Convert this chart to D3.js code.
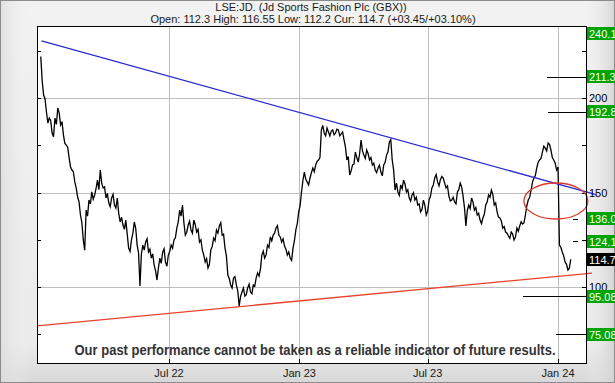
<!DOCTYPE html>
<html><head><meta charset="utf-8">
<script src="https://cdn.jsdelivr.net/npm/d3@7"></script>
<style>body{margin:0;background:#fff}svg{display:block}</style>
</head><body><svg id="c" width="615" height="383"></svg>
<script>
// ---------- data ----------
const startDate = "2022-01-01";
const stepDays = 2;
const prices = [
222.0,209.0,201.6,199.5,192.6,186.8,189.4,188.0,181.5,179.5,
189.4,186.0,194.7,192.0,185.7,187.5,180.4,176.0,175.1,174.0,
168.3,163.5,161.9,161.0,155.6,152.5,147.6,145.0,138.1,134.0,
124.9,119.5,140.7,137.5,146.0,144.0,150.3,146.5,148.7,152.0,
156.6,151.5,161.9,155.0,152.4,153.0,147.1,149.5,144.4,142.5,
147.1,149.0,143.4,141.8,147.1,139.0,134.4,137.0,132.8,130.5,
135.4,128.0,120.6,118.8,124.9,128.5,134.4,131.0,122.2,118.0,
100.5,117.5,122.2,119.5,123.8,125.5,118.5,120.0,115.3,117.5,
111.6,108.5,103.7,110.0,115.3,112.5,118.5,120.2,113.2,111.0,
116.9,118.8,122.2,120.5,124.9,126.0,131.2,134.5,140.7,137.5,
143.4,134.0,127.5,129.0,132.8,134.8,130.2,128.5,135.4,133.0,
129.1,130.5,123.8,125.0,119.6,117.0,113.2,115.0,110.1,112.0,
119.6,121.5,125.9,124.5,130.2,128.5,132.3,134.0,127.5,128.0,
120.6,116.5,106.3,104.5,101.1,99.5,104.8,105.5,101.1,98.0,
89.9,95.0,97.4,99.5,95.2,96.0,99.5,101.5,97.4,96.5,
101.1,100.5,104.8,107.5,105.8,109.5,116.9,119.0,115.3,117.0,
122.2,121.0,126.5,124.5,127.5,128.5,131.2,132.5,127.5,126.5,
123.8,125.5,121.7,120.0,116.9,118.5,115.3,114.0,120.6,124.5,
130.2,133.5,139.7,143.0,150.3,156.5,160.8,157.0,155.6,154.0,
157.7,160.5,163.0,161.0,164.6,166.5,167.2,168.5,183.1,185.5,
181.5,180.0,184.1,182.0,179.9,182.5,183.1,180.5,181.5,183.5,
183.1,180.0,181.0,182.0,177.8,174.0,167.2,169.0,159.3,161.5,
164.6,165.0,171.4,168.5,166.1,170.5,177.8,172.0,169.8,168.0,
172.5,170.5,167.2,168.5,164.6,165.5,161.9,160.5,163.0,164.5,
160.8,158.8,164.6,166.0,169.8,171.5,176.7,178.0,167.2,162.0,
151.3,155.0,150.3,148.5,154.0,152.0,156.6,154.5,150.3,151.5,
147.1,145.5,148.7,150.0,146.0,147.5,143.4,144.0,139.7,141.0,
146.0,143.5,138.1,140.0,146.0,148.0,152.4,154.0,157.7,159.5,
155.6,153.5,156.8,158.5,157.7,155.0,152.4,153.5,148.1,145.5,
146.0,147.5,145.0,144.0,150.3,151.5,155.0,153.0,148.1,142.0,
132.3,140.5,143.4,141.5,147.1,145.0,140.7,142.0,138.1,139.0,
135.4,133.5,136.5,138.5,143.4,145.0,148.7,147.5,151.3,149.0,
143.4,144.5,139.7,137.0,136.5,135.0,131.2,132.0,129.1,128.5,
127.0,125.8,129.1,128.0,124.9,126.5,131.2,129.5,132.3,134.5,
133.3,134.0,138.1,143.0,146.0,147.5,151.3,155.5,157.7,159.0,
163.0,166.0,167.2,168.0,171.4,174.5,173.5,172.0,176.2,175.5,
172.5,168.5,167.2,165.5,161.9,163.5,122.2,121.0,118.5,116.5,
113.2,112.0,109.0,110.0,114.7
];
const xTickDates = ["2022-07-01","2023-01-01","2023-07-01","2024-01-01"];
const xTickLabels = ["Jul 22","Jan 23","Jul 23","Jan 24"];
const yGridValues = [100,150,200];
const yMinorValues = [75,125,175,225];
const targetLevels = [240.1,211.3,192.8,136.0,124.1,95.08,75.08];
const targetLabels = ["240.1","211.3","192.8","136.0","124.1","95.08","75.08"];
const currentPrice = 114.7;
const currentLabel = "114.7";
const blueLine = [["2022-01-02",230.2],["2024-02-25",148.7]];
const redLine = [["2021-12-27",79.4],["2024-02-18",107.4]];
const ellipseCenter = ["2023-12-29",145.5];
const titleText = "LSE:JD. (Jd Sports Fashion Plc (GBX))";
const subtitleText = "Open: 112.3 High: 116.55 Low: 112.2 Cur: 114.7 (+03.45/+03.10%)";
const disclaimerText = "Our past performance cannot be taken as a reliable indicator of future results.";

// ---------- layout ----------
const W = 615, H = 383;
const L = 37, R = 586, T = 26, B = 363;
const targetLineStart = [null, 547, 548, 573, 573, 523, 556];
const targetLineEnd   = [null, 587, 587, 578, 578, 587, 587];

const parse = d3.utcParse("%Y-%m-%d");
const x = d3.scaleUtc()
  .domain([new Date(Date.UTC(2021,11,26,16)), new Date(Date.UTC(2024,1,9,12))])
  .range([L, R]);
const y = d3.scaleLinear().domain([59.8, 238.1]).range([B, T]);

const t0 = parse(startDate);
const series = prices.map((v,i) => ({d: d3.utcDay.offset(t0, i*stepDays), v}));

const svg = d3.select("#c");
const defs = svg.append("defs");
const g1 = defs.append("linearGradient").attr("id","bg").attr("x1",0).attr("y1",0).attr("x2",0).attr("y2",1);
g1.append("stop").attr("offset","0").attr("stop-color","#f2f2f2");
g1.append("stop").attr("offset","0.9").attr("stop-color","#ebebeb");
g1.append("stop").attr("offset","1").attr("stop-color","#d8d8d8");
const g2 = defs.append("linearGradient").attr("id","bgh").attr("x1",0).attr("y1",0).attr("x2",1).attr("y2",0);
g2.append("stop").attr("offset","0").attr("stop-color","#dcdcdc").attr("stop-opacity",0.8);
g2.append("stop").attr("offset","0.05").attr("stop-color","#f4f4f4").attr("stop-opacity",0);
g2.append("stop").attr("offset","0.95").attr("stop-color","#f4f4f4").attr("stop-opacity",0);
g2.append("stop").attr("offset","1").attr("stop-color","#d0d0d0").attr("stop-opacity",0.8);

svg.append("rect").attr("x",0.5).attr("y",0.5).attr("width",W-1).attr("height",H-1)
  .attr("fill","url(#bg)").attr("stroke","#8c8c8c");
svg.append("rect").attr("x",1).attr("y",1).attr("width",W-2).attr("height",H-2)
  .attr("fill","url(#bgh)");

// plot area
svg.append("rect").attr("x",L).attr("y",T).attr("width",R-L).attr("height",B-T).attr("fill","#fff");

// grid
svg.append("g").selectAll("line").data(yGridValues).join("line")
  .attr("x1",L).attr("x2",R).attr("y1",d=>Math.round(y(d))+0.5).attr("y2",d=>Math.round(y(d))+0.5)
  .attr("stroke","#bdbdbd");
svg.append("g").selectAll("line").data(xTickDates).join("line")
  .attr("y1",T).attr("y2",B).attr("x1",d=>Math.round(x(parse(d)))+0.5).attr("x2",d=>Math.round(x(parse(d)))+0.5)
  .attr("stroke","#bdbdbd");

// ticks
const allY = yGridValues.concat(yMinorValues);
svg.append("g").selectAll("line").data(allY).join("line")
  .attr("x1",L).attr("x2",L+4).attr("y1",d=>Math.round(y(d))+0.5).attr("y2",d=>Math.round(y(d))+0.5)
  .attr("stroke","#000");
svg.append("g").selectAll("line").data(allY).join("line")
  .attr("x1",R-4).attr("x2",R).attr("y1",d=>Math.round(y(d))+0.5).attr("y2",d=>Math.round(y(d))+0.5)
  .attr("stroke","#000");
svg.append("g").selectAll("line").data(xTickDates).join("line")
  .attr("y1",B-4).attr("y2",B).attr("x1",d=>Math.round(x(parse(d)))+0.5).attr("x2",d=>Math.round(x(parse(d)))+0.5)
  .attr("stroke","#000");

// price line
svg.append("path").datum(series)
  .attr("d", d3.line().x(d=>x(d.d)).y(d=>y(d.v)))
  .attr("fill","none").attr("stroke","#000").attr("stroke-width",1.3).attr("stroke-linejoin","miter");

// trend lines
const tl = d3.line().x(d=>x(parse(d[0]))).y(d=>y(d[1]));
svg.append("path").datum(blueLine).attr("d",tl).attr("stroke","#2a2ad0").attr("stroke-width",1.3).attr("fill","none");
svg.append("path").datum(redLine).attr("d",tl).attr("stroke","#e8412c").attr("stroke-width",1.3).attr("fill","none");

// ellipse
svg.append("ellipse").attr("cx",x(parse(ellipseCenter[0]))).attr("cy",y(ellipseCenter[1]))
  .attr("rx",32).attr("ry",18).attr("fill","none").attr("stroke","#e03a2a").attr("stroke-width",1.3);

// plot border
svg.append("rect").attr("x",L+0.5).attr("y",T+0.5).attr("width",R-L).attr("height",B-T)
  .attr("fill","none").attr("stroke","#000");

// titles
svg.append("text").attr("x",311).attr("y",11).attr("text-anchor","middle")
  .attr("font-family","Liberation Sans, Arial, sans-serif").attr("font-size",11).attr("fill","#1a1a1a").text(titleText);
svg.append("text").attr("x",313).attr("y",23).attr("text-anchor","middle")
  .attr("font-family","Liberation Sans, Arial, sans-serif").attr("font-size",11).attr("fill","#1a1a1a").text(subtitleText);

// x labels
svg.append("g").selectAll("text").data(xTickDates).join("text")
  .attr("x",d=>x(parse(d))).attr("y",377).attr("text-anchor","middle")
  .attr("font-family","Liberation Sans, Arial, sans-serif").attr("font-size",11).attr("fill","#1a1a1a")
  .text((d,i)=>xTickLabels[i]);

// right y labels
svg.append("g").selectAll("text").data(yGridValues).join("text")
  .attr("x",589).attr("y",d=>y(d)+4)
  .attr("font-family","Liberation Sans, Arial, sans-serif").attr("font-size",11).attr("fill","#000")
  .text(d=>d);

// disclaimer
svg.append("text").attr("x",315).attr("y",355).attr("text-anchor","middle")
  .attr("font-family","Liberation Sans Narrow, Arial Narrow, Liberation Sans, sans-serif").attr("font-weight","bold")
  .attr("font-size",15).attr("fill","#333").attr("textLength",481).attr("lengthAdjust","spacingAndGlyphs")
  .text(disclaimerText);

// target lines
targetLevels.forEach((v,i)=>{
  if (targetLineStart[i]==null) return;
  const yy = Math.round(y(v))+0.5;
  svg.append("line").attr("x1",targetLineStart[i]).attr("x2",targetLineEnd[i]).attr("y1",yy).attr("y2",yy)
    .attr("stroke","#000").attr("stroke-width",1);
});

// label boxes
function box(v, label, fill){
  let cy = y(v);
  cy = Math.max(T+7, Math.min(B-7, cy));
  svg.append("rect").attr("x",587).attr("y",Math.round(cy-6.5)).attr("width",28).attr("height",13).attr("fill",fill);
  svg.append("text").attr("x",589).attr("y",Math.round(cy-6.5)+10.5)
    .attr("font-family","Liberation Sans, Arial, sans-serif").attr("font-size",11).attr("fill","#fff").text(label);
}
targetLevels.forEach((v,i)=>box(v, targetLabels[i], "#00a400"));
box(currentPrice, currentLabel, "#000");
</script></body></html>
